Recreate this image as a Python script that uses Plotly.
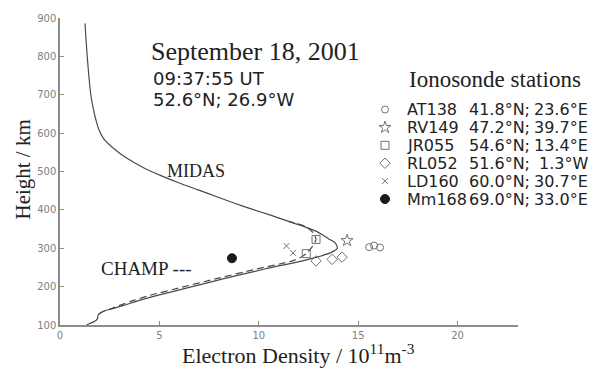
import plotly.graph_objects as go

# ---- model profile (MIDAS), height in km vs electron density in 1e11 m^-3
midas_h = [886, 850, 800, 750, 700, 670, 640, 610, 585, 560, 535, 510, 490, 470,
           452, 435, 418, 402, 387, 370, 357, 344, 335, 325, 314, 300, 288, 278,
           267, 246, 220, 198, 177, 164, 151, 142, 136, 131, 126, 116, 110, 104,
           100]
midas_n = [1.26, 1.30, 1.37, 1.45, 1.55, 1.65, 1.78, 1.95, 2.2, 2.7, 3.35, 4.2,
           5.05, 6.0, 6.95, 7.85, 8.75, 9.65, 10.55, 11.5, 12.25, 12.9, 13.2,
           13.5, 13.85, 13.95, 13.6, 13.0, 12.2, 10.3, 8.2, 6.5, 4.9, 4.0, 3.2,
           2.6, 2.2, 2.0, 1.92, 1.88, 1.75, 1.5, 1.34]

# ---- CHAMP radio occultation profile
champ_h = [128, 136, 142, 151, 164, 177, 198, 220, 246, 267, 276, 286, 305, 323,
           340, 357, 370]
champ_n = [1.95, 2.2, 2.55, 3.0, 3.7, 4.5, 6.1, 7.8, 9.9, 11.7, 12.1, 12.39,
           12.7, 12.88, 12.75, 12.35, 11.5]

# ---- ionosonde peak values per station
stations = ["AT138", "RV149", "JR055", "RL052", "LD160", "Mm168"]
station_lat = ["41.8°N;", "47.2°N;", "54.6°N;", "51.6°N;", "60.0°N;", "69.0°N;"]
station_lon = ["23.6°E", "39.7°E", "13.4°E", "1.3°W", "30.7°E", "33.0°E"]
station_n = [[15.55, 15.8, 16.1], [14.44], [12.88, 12.39],
             [12.88, 13.69, 14.19], [11.39, 11.72], [8.65]]
station_h = [[303, 307, 302], [320], [323, 286],
             [267, 271, 277], [306, 288], [274]]

# ---- styling
symbols = ["circle-open", "star-open", "square-open", "diamond-open",
           "x-thin-open", "circle"]
sizes = [7, 9, 8, 8, 6, 9]
mk_color = "#737373"
line_color = "#4a4a4a"
axis_color = "#8c8c8c"
text_color = "#222222"
SERIF = "Liberation Serif"
SANS = "DejaVu Sans"

W, H = 600, 369
PL, PR, PT, PB = 60, 518, 13, 325       # plot area in pixels


def fx(p):
    return (p - PL) / (PR - PL)


def fy(p):
    return (PB - p) / (PB - PT)


fig = go.Figure()

fig.add_trace(go.Scatter(x=midas_n, y=midas_h, mode="lines",
                         line=dict(color=line_color, width=1.2,
                                   shape="spline", smoothing=0.6),
                         showlegend=False))
fig.add_trace(go.Scatter(x=champ_n, y=champ_h, mode="lines",
                         line=dict(color=line_color, width=1.2, dash="7px,4px",
                                   shape="spline", smoothing=0.5),
                         showlegend=False))

for i, name in enumerate(stations):
    filled = symbols[i] == "circle"
    fig.add_trace(go.Scatter(
        x=station_n[i], y=station_h[i], mode="markers", showlegend=False,
        marker=dict(symbol=symbols[i], size=sizes[i],
                    color="#1a1a1a" if filled else mk_color,
                    line=dict(color="#1a1a1a" if filled else mk_color, width=1))))

# station key: symbols on a pixel-unit overlay axis
key_x = 385
key_y0, key_dy = 106, 18.2
for i, name in enumerate(stations):
    filled = symbols[i] == "circle"
    fig.add_trace(go.Scatter(
        x=[key_x], y=[key_y0 + i * key_dy], xaxis="x2", yaxis="y2",
        mode="markers", showlegend=False, cliponaxis=False,
        marker=dict(symbol=symbols[i], size=sizes[i],
                    color="#1a1a1a" if filled else mk_color,
                    line=dict(color="#1a1a1a" if filled else mk_color, width=1))))

ann = []


def text(x, y, s, size, family, xanchor="left", color=text_color, angle=0):
    ann.append(dict(x=fx(x), y=fy(y), xref="paper", yref="paper", text=s,
                    showarrow=False, xanchor=xanchor, yanchor="middle",
                    textangle=angle,
                    font=dict(size=size, family=family, color=color)))


text(149, 47, "September 18, 2001", 26, SERIF)
text(151, 74, "09:37:55 UT", 18, SANS)
text(151, 96, "52.6°N; 26.9°W", 18, SANS)
text(407, 76, "Ionosonde stations", 23, SERIF)
for i in range(len(stations)):
    yy = key_y0 + i * key_dy
    text(405, yy, stations[i], 16, SANS)
    text(467, yy, station_lat[i], 16, SANS)
    text(590, yy, station_lon[i], 16, SANS, xanchor="right")

text(165, 168, "MIDAS", 18, SERIF)
text(99, 268, "CHAMP ---", 19, SERIF)
text(298, 354, "Electron Density / 10<sup>11</sup>m<sup>-3</sup>", 22, SERIF,
     xanchor="center")
text(23, 167, "Height / km", 21, SERIF, xanchor="center", angle=-90)

tickfont = dict(size=10, family=SANS, color="#808080")
fig.update_layout(
    width=W, height=H, autosize=False,
    margin=dict(l=PL, r=W - PR, t=PT, b=H - PB, pad=0),
    paper_bgcolor="white", plot_bgcolor="white",
    showlegend=False,
    annotations=ann,
    xaxis=dict(range=[0, 23.04], tickvals=[0, 5, 10, 15, 20],
               showgrid=False, zeroline=False, showline=True,
               linecolor=axis_color, linewidth=1.5, ticks="inside",
               ticklen=4, tickcolor=axis_color, tickfont=tickfont,
               fixedrange=True),
    yaxis=dict(range=[100, 900], tickvals=list(range(100, 901, 100)),
               showgrid=False, zeroline=False, showline=True,
               linecolor=axis_color, linewidth=1.5, ticks="inside",
               ticklen=4, tickcolor=axis_color, tickfont=tickfont,
               fixedrange=True),
    xaxis2=dict(range=[PL, PR], overlaying="x", anchor="y2", visible=False,
                fixedrange=True),
    yaxis2=dict(range=[PB, PT], overlaying="y", anchor="x2", visible=False,
                fixedrange=True),
)

fig.write_html("out.html")
